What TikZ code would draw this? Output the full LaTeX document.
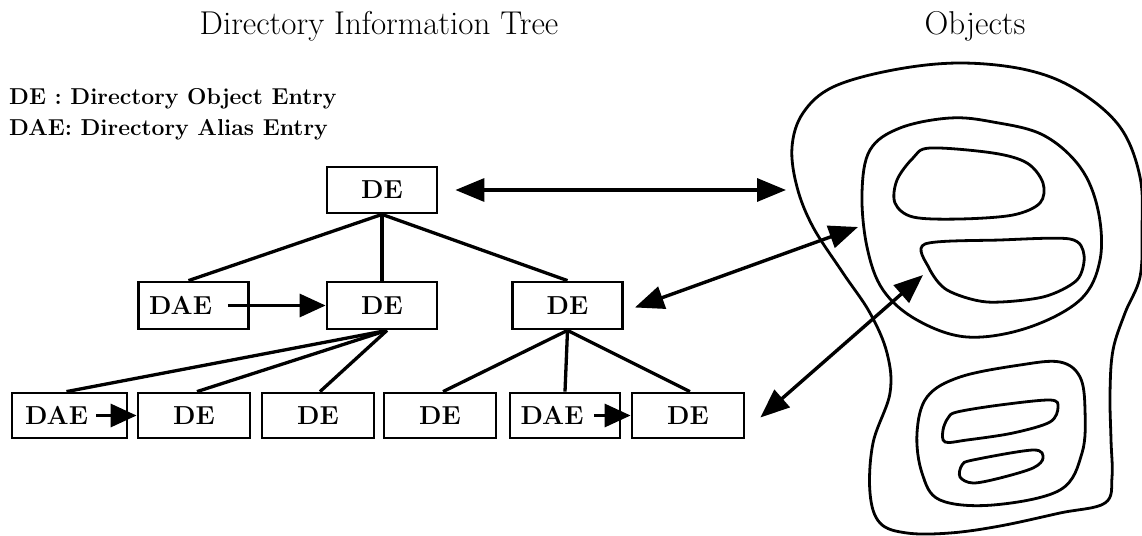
\documentclass[tikz,border=0pt]{standalone}
\usepackage{fontspec}
\usetikzlibrary{arrows.meta}
\begin{document}
\begin{tikzpicture}[x=1pt,y=-1pt,
 box/.style={draw, line width=2.8pt, minimum width=110pt, minimum height=46pt, inner sep=0pt, font=\fontsize{26}{30}\selectfont\bfseries},
 wbox/.style={box, minimum width=112pt, minimum height=45pt},
 tree/.style={line width=3.3pt},
 blob/.style={line width=2.8pt},
 link/.style={line width=3.4pt, {Triangle[length=29pt,width=23pt]}-{Triangle[length=29pt,width=23pt]}},
 alias/.style={line width=3.2pt, -{Triangle[length=26pt,width=23pt]}},
 title/.style={font=\fontsize{33}{38}\selectfont, inner sep=0pt},
 legend/.style={font=\fontsize{23}{27}\selectfont\bfseries, inner sep=0pt, anchor=base west},
]
\useasboundingbox (0,0) rectangle (1142,535);

% titles and legend
\node[title, anchor=base] (t1) at (379,35) {Directory Information Tree};
\node[title, anchor=base] (t2) at (975,35) {Objects};
\node[legend] (l1) at (9,104) {DE : Directory Object Entry};
\node[legend] (l2) at (9,135) {DAE: Directory Alias Entry};

% tree nodes
\node[box] (top) at (382,190) {DE};
\node[box, minimum height=47pt] (r2a) at (193.5,305.5) {DAE\hspace*{26pt}};
\node[box, minimum height=47pt] (r2b) at (382,305.5) {DE};
\node[box, minimum height=47pt] (r2c) at (567.5,305.5) {DE};
\node[wbox, minimum width=115pt] (r3a) at (69.5,415.5) {DAE\hspace*{26pt}};
\node[wbox] (r3b) at (194,415.5) {DE};
\node[wbox] (r3c) at (318,415.5) {DE};
\node[wbox] (r3d) at (440,415.5) {DE};
\node[wbox, minimum width=110pt] (r3e) at (565,415.5) {DAE\hspace*{26pt}};
\node[wbox] (r3f) at (688,415.5) {DE};

% tree edges
\draw[tree] (top.south) -- ([xshift=-5pt]r2a.north);
\draw[tree] (top.south) -- (r2b.north);
\draw[tree] (top.south) -- (r2c.north);
\draw[tree] ([xshift=5pt]r2b.south) -- ([xshift=-3pt]r3a.north);
\draw[tree] ([xshift=5pt]r2b.south) -- ([xshift=3pt]r3b.north);
\draw[tree] ([xshift=5pt]r2b.south) -- ([xshift=2pt]r3c.north);
\draw[tree] (r2c.south) -- ([xshift=3pt]r3d.north);
\draw[tree] (r2c.south) -- (r3e.north);
\draw[tree] (r2c.south) -- ([xshift=2pt]r3f.north);

% alias arrows
\draw[alias] ([xshift=-22pt]r2a.east) -- (r2b.west);
\draw[alias] ([xshift=-32pt]r3a.east) -- (r3b.west);
\draw[alias] ([xshift=-27pt]r3e.east) -- (r3f.west);

% objects
\draw[blob] plot[smooth cycle, tension=0.6] coordinates {
 (960,63) (1027,70) (1077,90) (1120,127) (1140,177) (1142,230) (1140,277) (1125,313)
 (1113,350) (1110,393) (1111,440) (1112,477) (1105,503) (1060,513) (1000,526) (950,533)
 (907,533) (880,523) (870,493) (873,443) (890,393) (887,353) (870,313) (843,273)
 (813,227) (797,187) (792,147) (803,113) (833,87) (893,70)};
\draw[blob] plot[smooth cycle, tension=0.6] coordinates {
 (950,118) (993,122) (1043,135) (1080,167) (1098,210) (1100,260) (1080,300) (1027,328)
 (967,337) (917,320) (883,290) (867,247) (862,193) (870,150) (900,128)};
\draw[blob] plot[smooth cycle, tension=0.55] coordinates {
 (930,148) (993,153) (1027,163) (1043,183) (1040,203) (1013,215) (960,219) (913,217)
 (895,203) (897,180) (913,158)};
\draw[blob] plot[smooth cycle, tension=0.5] coordinates {
 (925,244) (1000,240) (1070,239) (1084,255) (1077,280) (1043,297) (987,302) (947,290)
 (929,268)};
\draw[blob] plot[smooth cycle, tension=0.6] coordinates {
 (1060,362) (1080,377) (1085,410) (1082,453) (1060,490) (993,505) (940,500) (922,473)
 (917,433) (927,397) (960,377) (1020,365)};
\draw[blob] plot[smooth cycle, tension=0.55] coordinates {
 (957,412) (1000,405) (1050,400) (1058,407) (1050,422) (1013,433) (967,440) (945,442)
 (943,430) (948,418)};
\draw[blob] plot[smooth cycle, tension=0.55] coordinates {
 (973,460) (1033,450) (1043,458) (1033,468) (1000,478) (973,483) (960,477) (962,465)};

% links between tree and objects
\coordinate (o1) at (786,190);
\coordinate (o2) at (858,227);
\coordinate (o3) at (923,275);
\draw[link] ([xshift=17pt]top.east) -- (o1);
\draw[link] ([xshift=11pt,yshift=-2pt]r2c.east) -- (o2);
\draw[link] ([xshift=15pt,yshift=-2pt]r3f.east) -- (o3);
\end{tikzpicture}
\end{document}
